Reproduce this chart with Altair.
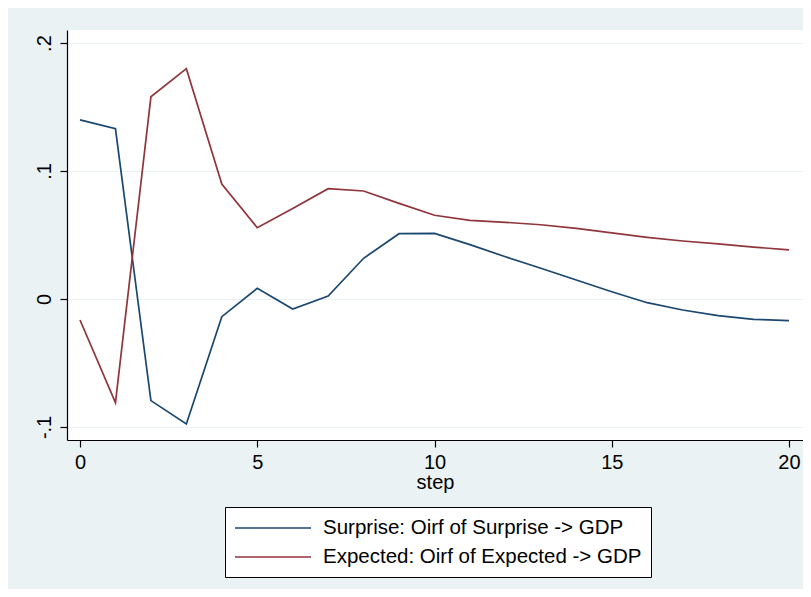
import altair as alt
import pandas as pd

steps = list(range(21))
surprise = [0.140, 0.133, -0.0794, -0.0977, -0.0138, 0.0083, -0.0078, 0.0023, 0.0318, 0.0510,
            0.0513, 0.0425, 0.0330, 0.0240, 0.0148, 0.0057, -0.0029, -0.0086, -0.0130, -0.0159, -0.0169]
expected = [-0.0164, -0.0810, 0.1580, 0.1800, 0.0898, 0.0557, 0.0708, 0.0862, 0.0844, 0.0747,
            0.0654, 0.0615, 0.0599, 0.0580, 0.0552, 0.0516, 0.0482, 0.0453, 0.0430, 0.0406, 0.0383]
series_names = ["Surprise: Oirf of Surprise -> GDP", "Expected: Oirf of Expected -> GDP"]
series_colors = ["#1a476f", "#90353b"]
y_ticks = [-0.1, 0, 0.1, 0.2]
x_ticks = [0, 5, 10, 15, 20]

rows = []
for s, v in zip(steps, surprise):
    rows.append({"step": s, "value": v, "series": series_names[0]})
for s, v in zip(steps, expected):
    rows.append({"step": s, "value": v, "series": series_names[1]})
df = pd.DataFrame(rows)

FONT = "Liberation Sans"

chart = alt.Chart(df).mark_line(strokeWidth=1.7).encode(
    x=alt.X("step:Q",
            scale=alt.Scale(domain=[-0.367, 20.395], nice=False, zero=False),
            axis=alt.Axis(values=x_ticks, title="step", grid=False, tickSize=7,
                          labelPadding=5, titlePadding=0, labelFontSize=20,
                          titleFontSize=20, titleFontWeight="normal")),
    y=alt.Y("value:Q",
            scale=alt.Scale(domain=[-0.1102, 0.2102], nice=False, zero=False),
            axis=alt.Axis(values=y_ticks, title=None, grid=True, tickSize=7,
                          labelAngle=270, labelAlign="center", labelBaseline="alphabetic",
                          labelPadding=10, labelFontSize=20,
                          labelExpr="datum.value == 0 ? '0' : (datum.value < 0 ? '-' : '') + '.' + toString(round(abs(datum.value) * 10))")),
    color=alt.Color("series:N",
                    scale=alt.Scale(domain=series_names, range=series_colors),
                    legend=alt.Legend(title=None, orient="none", legendX=158, legendY=477,
                                      fillColor="white", strokeColor="black",
                                      padding=9, labelFontSize=20.5, labelFont=FONT,
                                      labelColor="black",
                                      symbolType="M-1,0H5.91", symbolSize=484,
                                      symbolStrokeWidth=1.7, labelOffset=65,
                                      rowPadding=6, labelLimit=500)),
).properties(
    width=736, height=410,
    autosize=alt.AutoSizeParams(type="none"),
    padding={"left": 59, "top": 22, "right": 0, "bottom": 149},
    background="#EAF2F3",
).configure_view(
    fill="white", stroke=None,
).configure_axis(
    labelFont=FONT, titleFont=FONT, labelColor="black", titleColor="black",
    domainColor="black", domainWidth=1.2, tickColor="black", tickWidth=1.2,
    gridColor="#EAF2F3", gridWidth=1.2,
)

chart.save("out.html", embed_options={"renderer": "svg", "actions": False})
